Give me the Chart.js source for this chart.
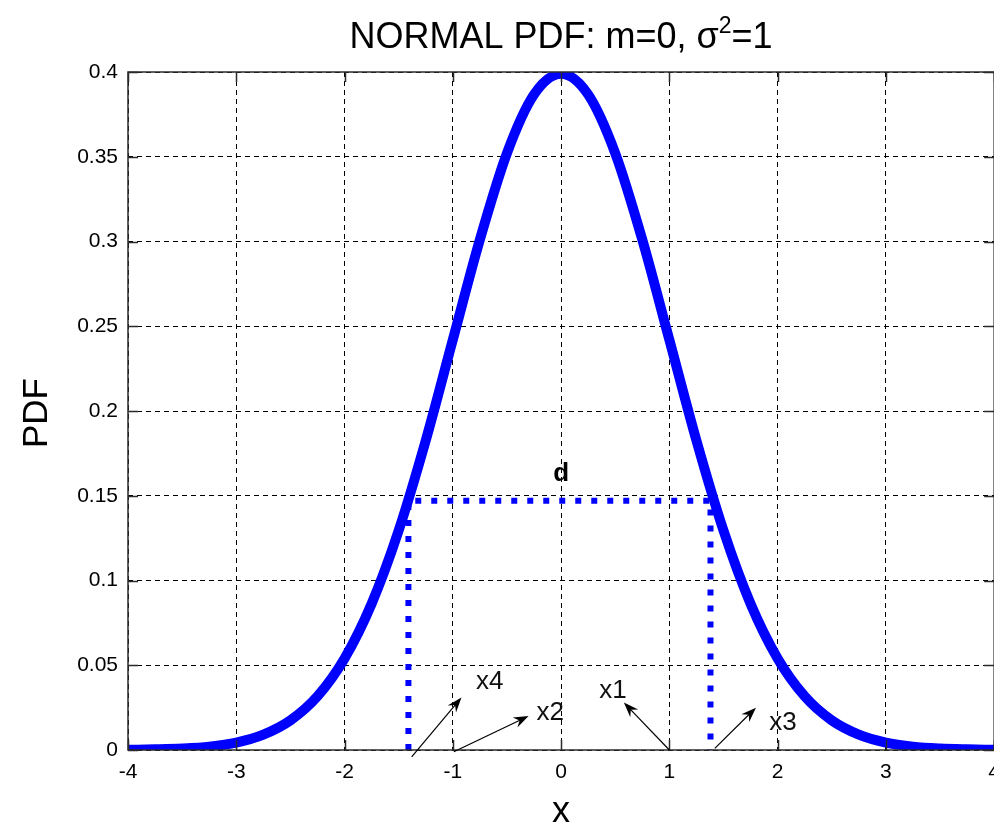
<!DOCTYPE html>
<html>
<head>
<meta charset="utf-8">
<script src="https://cdn.jsdelivr.net/npm/chart.js@4.4.1/dist/chart.umd.min.js"></script>
<style>
  html, body { margin: 0; padding: 0; background: #fff; overflow: hidden; }
  #wrap { width: 1010px; height: 830px; }
</style>
</head>
<body>
<div id="wrap"><canvas id="pdfChart" width="1010" height="830"></canvas></div>
<script>
// curve
const xValues = [-4, -3.75, -3.5, -3.25, -3, -2.75, -2.5, -2.25, -2, -1.75, -1.5, -1.25, -1, -0.75, -0.5, -0.25,
  0, 0.25, 0.5, 0.75, 1, 1.25, 1.5, 1.75, 2, 2.25, 2.5, 2.75, 3, 3.25, 3.5, 3.75, 4];
const pdfValues = [0.0001, 0.0004, 0.0009, 0.0020, 0.0044, 0.0091, 0.0175, 0.0317, 0.0540, 0.0863, 0.1295, 0.1826, 0.2420, 0.3011, 0.3521, 0.3867,
  0.3989, 0.3867, 0.3521, 0.3011, 0.2420, 0.1826, 0.1295, 0.0863, 0.0540, 0.0317, 0.0175, 0.0091, 0.0044, 0.0020, 0.0009, 0.0004, 0.0001];

const xTicks = [-4, -3, -2, -1, 0, 1, 2, 3, 4];
const yTicks = [0, 0.05, 0.1, 0.15, 0.2, 0.25, 0.3, 0.35, 0.4];

// dotted bracket (width d)
const markerX = [-1.41, -1.41, 1.38, 1.38];
const markerY = [0, 0.147, 0.147, 0];

// arrows and their labels
const arrowNames = ['x4', 'x2', 'x1', 'x3'];
const arrowFromX = [-1.38, -0.99, 1.00, 1.42];
const arrowFromY = [-0.004, -0.001, 0.0, 0.001];
const arrowToX = [-0.92, -0.30, 0.58, 1.80];
const arrowToY = [0.031, 0.020, 0.028, 0.025];
const labelX = [-0.66, -0.10, 0.48, 2.05];
const labelY = [0.040, 0.022, 0.035, 0.016];
const widthLabel = 'd';
const widthLabelX = 0;
const widthLabelY = 0.163;

const FONT = 'Arial, "Liberation Sans", sans-serif';
const AXIS = '#2b2b2b';

const decorations = {
  id: 'decorations',
  afterDraw(chart) {
    const { ctx, chartArea: a, scales: { x, y } } = chart;
    ctx.save();

    // frame
    ctx.strokeStyle = AXIS;
    ctx.lineWidth = 1.5;
    ctx.strokeRect(a.left, a.top, a.right - a.left, a.bottom - a.top);

    // inward tick marks
    ctx.beginPath();
    xTicks.forEach(v => {
      const px = Math.round(x.getPixelForValue(v)) + 0.5;
      ctx.moveTo(px, a.bottom); ctx.lineTo(px, a.bottom - 10);
      ctx.moveTo(px, a.top); ctx.lineTo(px, a.top + 10);
    });
    yTicks.forEach(v => {
      const py = Math.round(y.getPixelForValue(v)) + 0.5;
      ctx.moveTo(a.left, py); ctx.lineTo(a.left + 10, py);
      ctx.moveTo(a.right, py); ctx.lineTo(a.right - 10, py);
    });
    ctx.stroke();

    // arrows
    ctx.strokeStyle = '#000';
    ctx.fillStyle = '#000';
    ctx.lineWidth = 1.2;
    arrowNames.forEach((name, i) => {
      const x0 = x.getPixelForValue(arrowFromX[i]);
      const y0 = y.getPixelForValue(arrowFromY[i]);
      const x1 = x.getPixelForValue(arrowToX[i]);
      const y1 = y.getPixelForValue(arrowToY[i]);
      const ang = Math.atan2(y1 - y0, x1 - x0);
      ctx.beginPath();
      ctx.moveTo(x0, y0);
      ctx.lineTo(x1 - 8 * Math.cos(ang), y1 - 8 * Math.sin(ang));
      ctx.stroke();
      const len = 15, half = 5.5;
      const bx = x1 - len * Math.cos(ang), by = y1 - len * Math.sin(ang);
      const nx = x1 - 10 * Math.cos(ang), ny = y1 - 10 * Math.sin(ang);
      ctx.beginPath();
      ctx.moveTo(x1, y1);
      ctx.lineTo(bx + half * Math.sin(ang), by - half * Math.cos(ang));
      ctx.lineTo(nx, ny);
      ctx.lineTo(bx - half * Math.sin(ang), by + half * Math.cos(ang));
      ctx.closePath();
      ctx.fill();

      ctx.font = '26px ' + FONT;
      ctx.textAlign = 'center';
      ctx.textBaseline = 'middle';
      ctx.fillStyle = '#111';
      ctx.fillText(name, x.getPixelForValue(labelX[i]), y.getPixelForValue(labelY[i]));
      ctx.fillStyle = '#000';
    });

    ctx.font = 'bold 26px ' + FONT;
    ctx.textAlign = 'center';
    ctx.textBaseline = 'middle';
    ctx.fillText(widthLabel, x.getPixelForValue(widthLabelX), y.getPixelForValue(widthLabelY));

    // title with superscript
    const cx = x.getPixelForValue(0);
    const main = '36px ' + FONT, sup = '23px ' + FONT;
    const p1 = 'NORMAL PDF: m=0, \u03c3', p2 = '2', p3 = '=1';
    ctx.font = main; const w1 = ctx.measureText(p1).width, w3 = ctx.measureText(p3).width;
    ctx.font = sup; const w2 = ctx.measureText(p2).width;
    let tx = cx - (w1 + w2 + w3) / 2;
    const base = 48;
    ctx.textAlign = 'left';
    ctx.textBaseline = 'alphabetic';
    ctx.fillStyle = '#000';
    ctx.font = main; ctx.fillText(p1, tx, base); tx += w1;
    ctx.font = sup; ctx.fillText(p2, tx, base - 15); tx += w2;
    ctx.font = main; ctx.fillText(p3, tx, base);

    // axis titles
    ctx.font = '36px ' + FONT;
    ctx.textAlign = 'center';
    ctx.textBaseline = 'middle';
    ctx.fillText('x', cx, 812);
    ctx.save();
    ctx.translate(37, 413);
    ctx.rotate(-Math.PI / 2);
    ctx.font = '35px ' + FONT;
    ctx.fillText('PDF', 0, 0);
    ctx.restore();

    ctx.restore();
  }
};

new Chart(document.getElementById('pdfChart'), {
  type: 'line',
  data: {
    datasets: [
      {
        label: 'pdf',
        data: xValues.map((v, i) => ({ x: v, y: pdfValues[i] })),
        borderColor: '#0000ff',
        borderWidth: 10,
        pointRadius: 0,
        cubicInterpolationMode: 'monotone',
        borderJoinStyle: 'round',
        clip: 0
      },
      {
        label: 'd',
        data: markerX.map((v, i) => ({ x: v, y: markerY[i] })),
        borderColor: '#0000ff',
        borderWidth: 6,
        borderDash: [6, 10],
        borderCapStyle: 'butt',
        pointRadius: 0,
        tension: 0,
        clip: 0
      }
    ]
  },
  plugins: [decorations],
  options: {
    responsive: false,
    animation: false,
    layout: { padding: { top: 72, right: 9, left: 0, bottom: 0 } },
    plugins: { legend: { display: false }, tooltip: { enabled: false }, title: { display: false } },
    scales: {
      x: {
        type: 'linear',
        min: -4,
        max: 4,
        afterBuildTicks: s => { s.ticks = xTicks.map(v => ({ value: v })); },
        afterFit: s => { s.height = 80; },
        grid: { color: '#000', lineWidth: 1, drawTicks: false },
        border: { display: false, dash: [5, 4] },
        ticks: { padding: 10, color: '#000', font: { family: FONT, size: 21 }, maxRotation: 0, autoSkip: false }
      },
      y: {
        type: 'linear',
        min: 0,
        max: 0.4,
        afterBuildTicks: s => { s.ticks = yTicks.map(v => ({ value: v })); },
        afterFit: s => { s.width = 128; },
        grid: { color: '#000', lineWidth: 1, drawTicks: false },
        border: { display: false, dash: [5, 4] },
        ticks: {
          padding: 10,
          color: '#000',
          font: { family: FONT, size: 21 },
          callback: v => String(+v.toFixed(2))
        }
      }
    }
  }
});
</script>
</body>
</html>
